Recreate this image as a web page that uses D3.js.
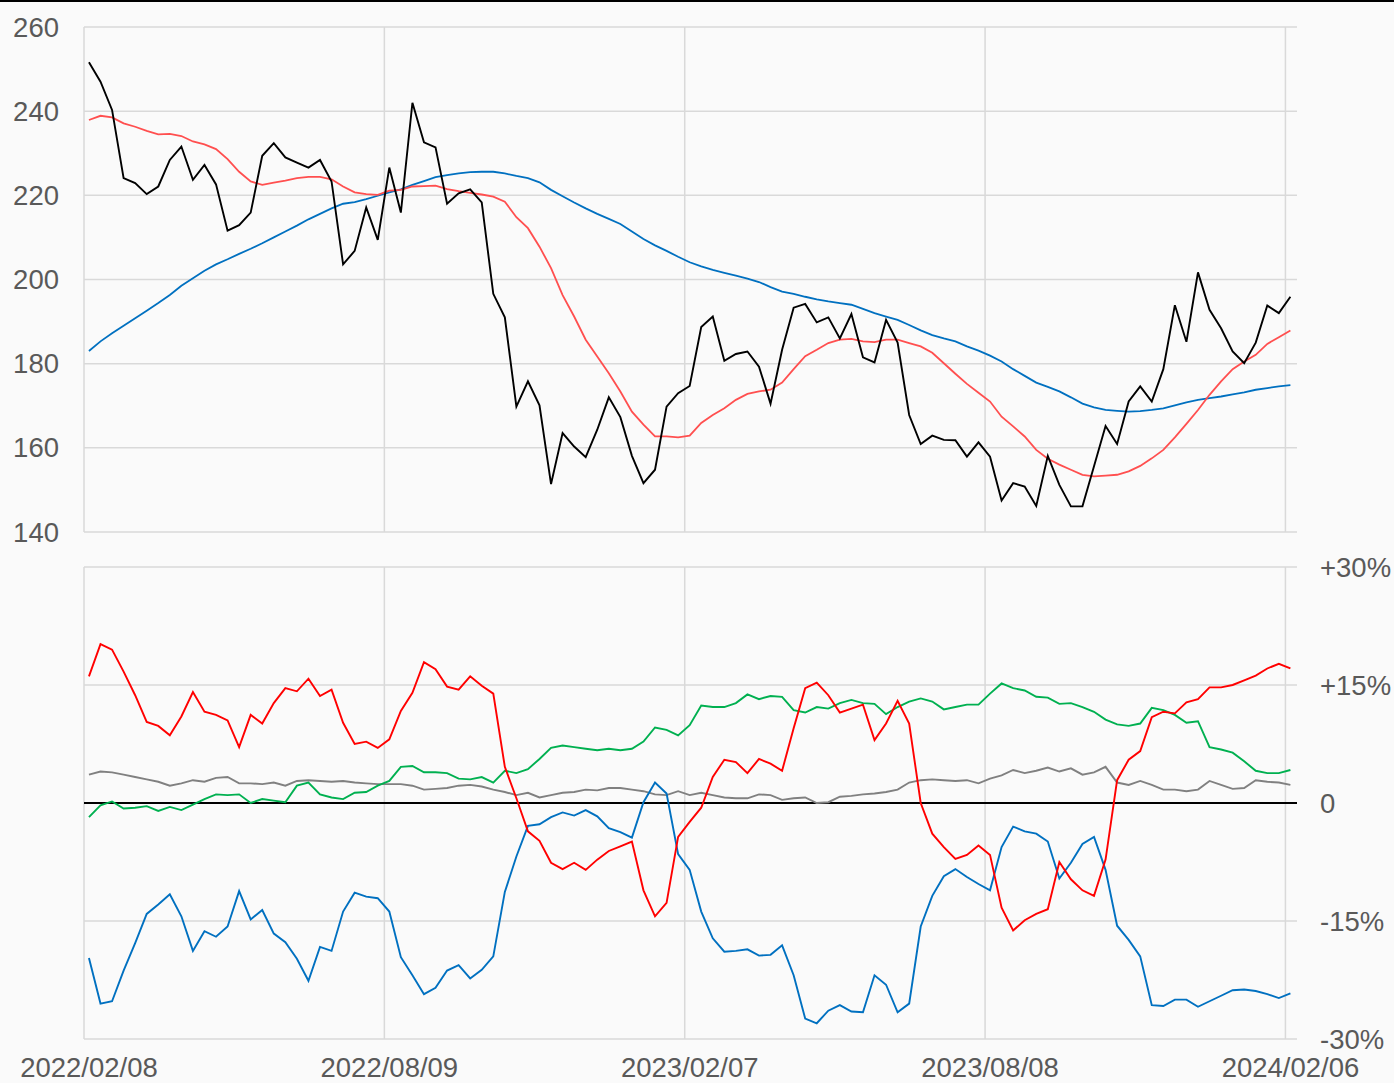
<!DOCTYPE html>
<html><head><meta charset="utf-8">
<script src="https://cdn.jsdelivr.net/npm/d3@7"></script>
<style>
html,body{margin:0;padding:0;background:#fafafa;}
svg{display:block;}
text{font-family:"Liberation Sans",Arial,sans-serif;fill:#595959;}
</style></head><body>
<svg id="c" width="1394" height="1083"></svg>
<script>
const firstWeek = "2022-02-11";
const dateTicks = ["2022-02-08","2022-08-09","2023-02-07","2023-08-08","2024-02-06"];
const dateTickLabels = ["2022/02/08","2022/08/09","2023/02/07","2023/08/08","2024/02/06"];
const priceTicks = [140,160,180,200,220,240,260];
const pctTicks = [-30,-15,0,15,30];
const pctTickLabels = ["-30%","-15%","0","+15%","+30%"];

const price = [251.6,247.0,240.3,224.1,222.9,220.3,222.1,228.4,231.6,223.7,227.2,222.6,211.6,212.9,215.9,229.4,232.4,229.0,227.8,226.6,228.4,223.3,
203.6,206.8,217.1,209.4,226.6,215.9,242.0,232.6,231.4,218.0,220.5,221.4,218.3,196.6,191.0,169.8,175.8,170.1,151.4,163.5,
160.3,157.8,164.3,172.0,167.3,158.1,151.6,154.8,169.8,173.0,174.7,188.7,191.2,180.7,182.3,182.9,179.3,170.5,183.3,193.3,194.2,
189.8,191.0,186.0,191.8,181.5,180.3,190.4,185.0,167.8,160.9,162.9,161.9,161.8,157.9,161.3,157.9,147.5,151.6,150.8,146.2,158.1,
151.2,146.1,146.1,155.6,165.2,160.9,171.0,174.6,171.0,178.7,193.9,185.2,201.7,192.8,188.4,182.9,180.1,185.0,193.8,192.0,195.9];

const maShort = [237.9,238.9,238.5,237.1,236.3,235.3,234.5,234.6,234.1,232.8,232.1,231.0,228.6,225.6,223.3,222.5,223.0,223.5,224.1,224.4,224.4,223.8,
222.1,220.7,220.3,220.1,221.1,221.3,222.1,222.2,222.3,221.5,221.0,220.6,220.2,219.7,218.5,214.8,212.2,207.8,202.7,196.3,
191.2,185.7,181.7,177.7,173.4,168.6,165.5,162.7,162.7,162.5,162.9,165.9,167.8,169.4,171.4,172.8,173.4,173.8,175.5,178.7,181.8,
183.3,184.9,185.7,185.9,185.3,185.1,185.7,185.7,184.9,184.1,182.6,180.1,177.6,175.2,173.1,171.0,167.4,165.1,162.7,159.5,157.4,
156.0,154.8,153.6,153.2,153.4,153.6,154.4,155.7,157.5,159.5,162.5,165.7,169.0,172.6,175.8,178.7,180.5,182.1,184.7,186.3,187.9];

const maLong = [183.0,185.3,187.2,189.0,190.8,192.6,194.4,196.3,198.5,200.3,202.1,203.6,204.8,206.1,207.3,208.6,210.0,211.4,212.8,214.3,215.6,216.9,
218.0,218.4,219.1,219.9,220.7,221.4,222.5,223.4,224.3,224.8,225.2,225.5,225.6,225.6,225.2,224.6,224.1,223.1,221.3,219.8,
218.3,216.9,215.6,214.4,213.2,211.4,209.6,208.1,206.8,205.4,204.1,203.1,202.3,201.6,200.9,200.2,199.4,198.2,197.1,196.6,195.9,
195.3,194.8,194.4,194.0,193.0,192.0,191.2,190.4,189.2,187.9,186.8,186.0,185.3,184.1,183.1,181.9,180.5,178.7,177.1,175.5,174.5,
173.4,172.0,170.5,169.6,169.0,168.8,168.6,168.7,169.0,169.4,170.1,170.8,171.4,171.8,172.2,172.7,173.2,173.8,174.2,174.6,174.9];

const devRed = [16.1,20.2,19.5,16.7,13.7,10.3,9.8,8.6,11.0,14.1,11.6,11.2,10.5,7.1,11.2,10.1,12.7,14.6,14.2,15.8,13.6,14.4,
10.2,7.5,7.8,7.0,8.1,11.7,14.0,17.9,17.0,14.8,14.4,16.1,14.9,13.9,4.6,0.6,-3.6,-4.8,-7.6,-8.4,
-7.6,-8.5,-7.2,-6.1,-5.5,-4.9,-11.1,-14.4,-12.7,-4.3,-2.4,-0.6,3.3,5.5,5.2,3.8,5.6,5.0,4.1,9.5,14.6,
15.3,13.7,11.5,12.0,12.5,8.0,10.1,13.0,10.1,0.0,-3.9,-5.6,-7.1,-6.6,-5.4,-6.6,-13.3,-16.2,-14.9,-14.1,-13.5,
-7.5,-9.7,-11.1,-11.8,-7.2,2.9,5.5,6.6,10.9,11.6,11.4,12.8,13.2,14.7,14.7,15.0,15.6,16.2,17.1,17.7,17.1];

const devBlue = [-19.7,-25.5,-25.2,-21.3,-17.8,-14.1,-12.9,-11.6,-14.4,-18.8,-16.3,-17.0,-15.7,-11.2,-14.8,-13.6,-16.6,-17.7,-19.8,-22.6,-18.3,-18.8,
-13.8,-11.4,-11.9,-12.1,-13.8,-19.6,-21.9,-24.3,-23.5,-21.3,-20.6,-22.3,-21.2,-19.5,-11.3,-6.8,-2.9,-2.7,-1.8,-1.2,
-1.6,-0.9,-1.7,-3.2,-3.7,-4.4,0.1,2.6,1.2,-6.5,-8.5,-13.8,-17.2,-18.9,-18.8,-18.6,-19.4,-19.3,-18.1,-21.9,-27.4,
-28.0,-26.4,-25.7,-26.5,-26.6,-21.9,-23.1,-26.6,-25.5,-15.7,-11.8,-9.3,-8.4,-9.4,-10.3,-11.1,-5.6,-3.0,-3.6,-3.9,-4.9,
-9.6,-7.6,-5.2,-4.3,-8.5,-15.6,-17.4,-19.5,-25.7,-25.8,-25.0,-25.0,-25.9,-25.2,-24.5,-23.8,-23.7,-23.9,-24.3,-24.8,-24.2];

const devGreen = [-1.8,-0.3,0.2,-0.7,-0.6,-0.4,-1.0,-0.5,-0.9,-0.2,0.5,1.1,1.0,1.1,0.0,0.5,0.3,0.1,2.2,2.6,1.1,0.7,
0.5,1.3,1.4,2.2,2.8,4.6,4.7,3.9,3.9,3.8,3.1,3.0,3.3,2.6,4.1,3.8,4.3,5.6,7.0,7.3,
7.1,6.9,6.7,6.9,6.7,6.9,7.8,9.6,9.3,8.6,9.9,12.4,12.2,12.2,12.7,13.8,13.2,13.6,13.5,11.8,11.5,
12.2,12.0,12.7,13.1,12.7,12.6,11.3,12.2,12.9,13.3,12.9,11.9,12.2,12.5,12.5,13.9,15.2,14.6,14.3,13.5,13.4,
12.6,12.7,12.2,11.6,10.6,10.0,9.8,10.1,12.1,11.8,11.2,10.2,10.4,7.1,6.8,6.4,5.3,4.1,3.8,3.8,4.2];

const devGray = [3.6,4.0,3.9,3.6,3.3,3.0,2.7,2.2,2.5,2.9,2.7,3.2,3.3,2.5,2.5,2.4,2.6,2.2,2.8,2.9,2.8,2.7,
2.8,2.6,2.5,2.4,2.4,2.4,2.2,1.7,1.8,1.9,2.2,2.3,2.1,1.7,1.4,1.0,1.3,0.7,1.0,1.3,
1.4,1.7,1.6,1.9,1.9,1.7,1.5,1.1,1.0,1.5,1.0,1.3,1.0,0.7,0.6,0.6,1.1,1.0,0.4,0.6,0.7,
0.0,0.1,0.8,0.9,1.1,1.2,1.4,1.7,2.6,2.9,3.0,2.9,2.8,2.9,2.5,3.1,3.5,4.2,3.8,4.1,4.5,
4.0,4.4,3.6,3.9,4.6,2.6,2.3,2.8,2.3,1.7,1.7,1.5,1.7,2.8,2.3,1.8,1.9,2.9,2.7,2.6,2.3];

const parse = d3.timeParse("%Y-%m-%d");
const start = parse(firstWeek);
const dates = price.map((_, i) => d3.timeDay.offset(start, 7 * i));

const svg = d3.select("#c");
const W = 1394;
const x = d3.scaleTime().domain([parse("2022-02-08"), parse("2024-02-13")]).range([84, 1297]);
const yTop = d3.scaleLinear().domain([140, 260]).range([532, 27]);
const yBot = d3.scaleLinear().domain([-30, 30]).range([1039, 567]);
const grid = "#d9d9d9";

svg.append("rect").attr("x", 0).attr("y", 0).attr("width", W).attr("height", 2).attr("fill", "#000");

function panel(y, ticks) {
  const g = svg.append("g");
  const [y0, y1] = y.range();
  g.selectAll("line.h").data(ticks.filter(t => t !== 0)).join("line")
    .attr("x1", 84).attr("x2", 1297)
    .attr("y1", d => y(d)).attr("y2", d => y(d))
    .attr("stroke", grid).attr("stroke-width", 1.5);
  g.selectAll("line.v").data(dateTicks.map(parse)).join("line")
    .attr("x1", d => x(d)).attr("x2", d => x(d))
    .attr("y1", y1).attr("y2", y0)
    .attr("stroke", grid).attr("stroke-width", 1.5);
  return g;
}
panel(yTop, priceTicks);
panel(yBot, pctTicks);

svg.append("line").attr("x1", 84).attr("x2", 1297)
  .attr("y1", yBot(0)).attr("y2", yBot(0)).attr("stroke", "#000").attr("stroke-width", 1.8);

function drawLine(vals, y, color, w) {
  const line = d3.line().x((d, i) => x(dates[i])).y(d => y(d));
  svg.append("path").datum(vals).attr("d", line)
    .attr("fill", "none").attr("stroke", color).attr("stroke-width", w)
    .attr("stroke-linejoin", "miter");
}
drawLine(maLong, yTop, "#0070c0", 1.8);
drawLine(maShort, yTop, "#ff4f4f", 1.8);
drawLine(price, yTop, "#000000", 1.9);

drawLine(devGray, yBot, "#808080", 1.9);
drawLine(devGreen, yBot, "#00b050", 1.9);
drawLine(devBlue, yBot, "#0070c0", 1.9);
drawLine(devRed, yBot, "#ff0000", 1.9);

const fs = "27.5px";
svg.selectAll("text.p").data(priceTicks).join("text")
  .attr("x", 59).attr("y", d => yTop(d)).attr("dy", "0.35em")
  .attr("text-anchor", "end").style("font-size", fs).text(d => d);
svg.selectAll("text.q").data(pctTicks).join("text")
  .attr("x", 1320).attr("y", d => yBot(d)).attr("dy", "0.35em")
  .attr("text-anchor", "start").style("font-size", fs).text((d, i) => pctTickLabels[i]);
svg.selectAll("text.d").data(dateTicks).join("text")
  .attr("x", d => x(parse(d))).attr("dx", 5).attr("y", 1077)
  .attr("text-anchor", "middle").style("font-size", fs).text((d, i) => dateTickLabels[i]);
</script></body></html>
